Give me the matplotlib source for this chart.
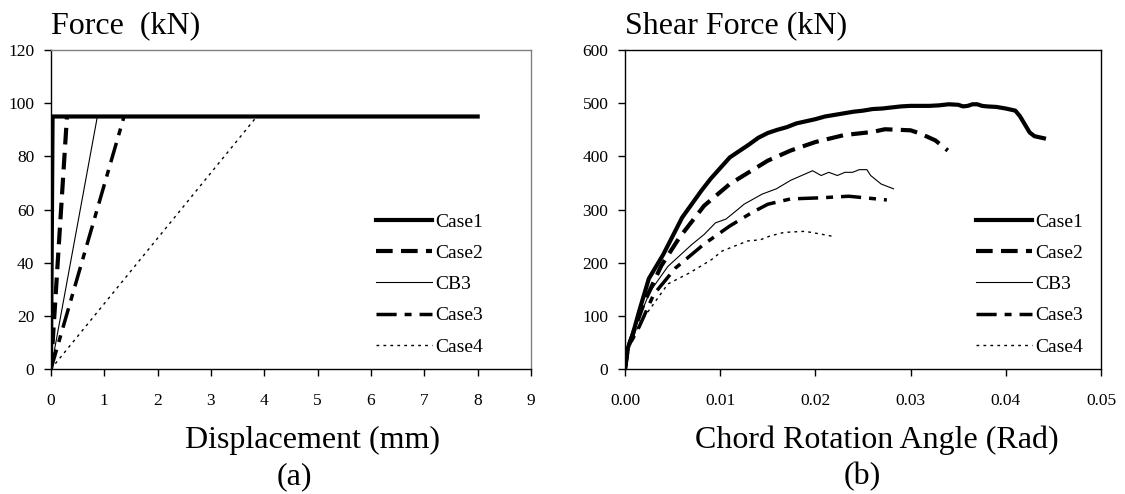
import matplotlib
matplotlib.use("Agg")
import matplotlib.pyplot as plt

plt.rcParams['font.family'] = ['Liberation Serif', 'DejaVu Serif']

labels = ['Case1', 'Case2', 'CB3', 'Case3', 'Case4']

# (a) force - displacement
disp_case1 = [0, 0.03, 8]
force_case1 = [0, 95, 95]
disp_case2 = [0, 0.30]
force_case2 = [0, 95]
disp_cb3 = [0, 0.87]
force_cb3 = [0, 95]
disp_case3 = [0, 1.37]
force_case3 = [0, 95]
disp_case4 = [0, 3.86]
force_case4 = [0, 95]

# (b) shear force - chord rotation
rot_case1 = [0, 0.0003, 0.0008, 0.0015, 0.0025, 0.004, 0.005, 0.006, 0.007, 0.008,
             0.009, 0.010, 0.011, 0.012, 0.013, 0.014, 0.015, 0.016, 0.017, 0.018,
             0.019, 0.020, 0.021, 0.022, 0.023, 0.024, 0.025, 0.026, 0.027, 0.028,
             0.029, 0.030, 0.031, 0.032, 0.033, 0.034, 0.035, 0.0355, 0.036, 0.0365,
             0.037, 0.0375, 0.038, 0.039, 0.040, 0.041, 0.0415, 0.042, 0.0425, 0.043, 0.044]
shear_case1 = [0, 40, 65, 110, 170, 215, 250, 285, 310, 335,
               358, 378, 398, 410, 422, 435, 444, 450, 455, 462,
               466, 470, 475, 478, 481, 484, 486, 489, 490, 492,
               494, 495, 495, 495, 496, 498, 497, 494, 495, 498,
               498, 495, 494, 493, 490, 486, 475, 460, 445, 438, 434]
rot_case2 = [0, 0.0003, 0.001, 0.002, 0.0038, 0.0057, 0.0083, 0.011, 0.015, 0.0174,
             0.020, 0.023, 0.026, 0.0273, 0.030, 0.031, 0.0326, 0.0339]
shear_case2 = [0, 40, 75, 125, 194, 247, 307, 348, 392, 411,
               427, 440, 446, 451, 449, 443, 430, 411]
rot_cb3 = [0, 0.0003, 0.001, 0.0026, 0.0045, 0.007, 0.0083, 0.0095, 0.0106, 0.0117,
           0.0125, 0.0144, 0.0159, 0.0174, 0.0197, 0.0206, 0.0214, 0.0223, 0.0231, 0.0239,
           0.0246, 0.0254, 0.0258, 0.0269, 0.0282]
shear_cb3 = [0, 40, 75, 145, 193, 234, 253, 275, 282, 298,
             310, 329, 339, 355, 373, 364, 370, 364, 370, 370,
             375, 375, 364, 348, 339]
rot_case3 = [0, 0.0003, 0.0015, 0.003, 0.0053, 0.0083, 0.011, 0.0133, 0.015, 0.0174,
             0.0205, 0.0235, 0.0258, 0.0275]
shear_case3 = [0, 40, 80, 140, 190, 235, 269, 294, 310, 320,
               322, 325, 321, 318]
rot_case4 = [0, 0.0003, 0.0015, 0.0045, 0.0068, 0.0091, 0.0102, 0.0129, 0.0142, 0.0152,
             0.0167, 0.0189, 0.0205, 0.022]
shear_case4 = [0, 40, 85, 160, 181, 206, 222, 241, 243, 250,
               257, 259, 254, 249]

styles = [
    dict(color='black', lw=3.0, ls='-'),
    dict(color='black', lw=3.0, ls=(0, (4, 2))),
    dict(color='black', lw=0.8, ls='-'),
    dict(color='black', lw=2.5, ls=(0, (5.8, 2.3, 2, 2.3))),
    dict(color='black', lw=1.0, ls=(0, (2, 3))),
]

fig = plt.figure(figsize=(11.25, 4.94), dpi=100)
ax1 = fig.add_axes([0.0453, 0.2530, 0.4267, 0.6457])
ax2 = fig.add_axes([0.5556, 0.2530, 0.4231, 0.6457])

left_data = [(disp_case1, force_case1), (disp_case2, force_case2), (disp_cb3, force_cb3),
             (disp_case3, force_case3), (disp_case4, force_case4)]
right_data = [(rot_case1, shear_case1), (rot_case2, shear_case2), (rot_cb3, shear_cb3),
              (rot_case3, shear_case3), (rot_case4, shear_case4)]

for i in range(5):
    z = 5 if i == 0 else 3
    ax1.plot(left_data[i][0], left_data[i][1], label=labels[i], zorder=z, **styles[i])
    ax2.plot(right_data[i][0], right_data[i][1], label=labels[i], **styles[i])

ax1.set_xlim(0, 9)
ax1.set_ylim(0, 120)
ax1.set_xticks(range(0, 10))
ax1.set_yticks(range(0, 121, 20))

ax2.set_xlim(0, 0.05)
ax2.set_ylim(0, 600)
ax2.set_xticks([0, 0.01, 0.02, 0.03, 0.04, 0.05])
ax2.set_xticklabels(['0.00', '0.01', '0.02', '0.03', '0.04', '0.05'])
ax2.set_yticks(range(0, 601, 100))

for ax in (ax1, ax2):
    ax.tick_params(axis='both', direction='out', length=5, width=1, labelsize=12.5, colors='black')
    ax.tick_params(axis='y', pad=7)
    ax.tick_params(axis='x', pad=12)
    for s in ax.spines.values():
        s.set_linewidth(1.0)
    leg = ax.legend(loc='upper left', frameon=False, fontsize=14, handlelength=2.9,
                    handletextpad=0.15, labelspacing=0.7, borderpad=0, borderaxespad=0,
                    bbox_to_anchor=(0.677 if ax is ax1 else 0.737, 0.489))

ax1.spines['top'].set_color('#808080')
ax1.spines['right'].set_color('#808080')

ax1.text(0.0, 1.053, 'Force  (kN)', transform=ax1.transAxes, fontsize=23, ha='left', va='baseline')
ax2.text(0.0, 1.053, 'Shear Force (kN)', transform=ax2.transAxes, fontsize=23, ha='left', va='baseline')

ax1.text(0.544, -0.2476, 'Displacement (mm)', transform=ax1.transAxes, fontsize=23, ha='center', va='baseline')
ax1.text(0.508, -0.36, '(a)', transform=ax1.transAxes, fontsize=23, ha='center', va='baseline')
ax2.text(0.529, -0.2476, 'Chord Rotation Angle (Rad)', transform=ax2.transAxes, fontsize=23, ha='center', va='baseline')
ax2.text(0.498, -0.36, '(b)', transform=ax2.transAxes, fontsize=23, ha='center', va='baseline')

fig.savefig('out.png', dpi=100)
